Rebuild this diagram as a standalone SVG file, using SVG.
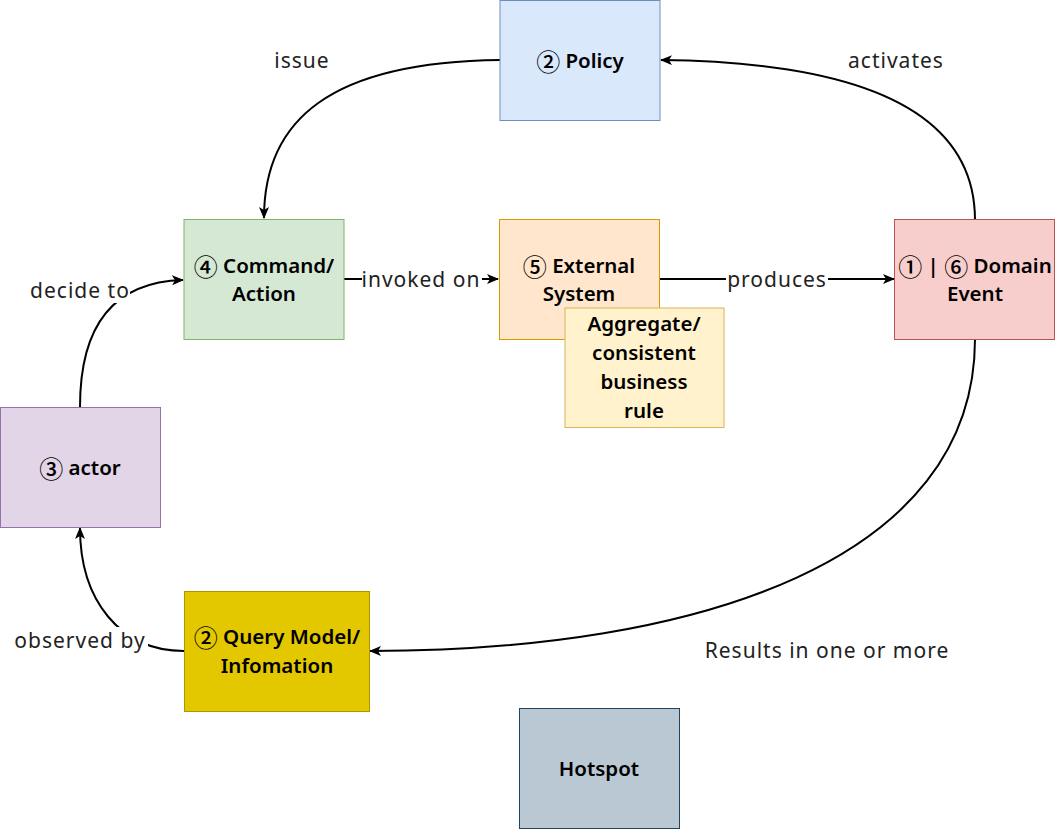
<svg xmlns="http://www.w3.org/2000/svg" width="1055" height="830" viewBox="0 0 1055 830">
<style>
.node text{font-family:"Noto Sans","DejaVu Sans",sans-serif;font-size:20.5px;font-weight:600;fill:#000;text-anchor:middle;dominant-baseline:central}
.node text .c{font-family:"Noto Sans CJK SC","DejaVu Sans",sans-serif;font-weight:500;font-size:24px}
.lbl{font-family:"Noto Sans","DejaVu Sans",sans-serif;font-size:21px;letter-spacing:1px;fill:#222;text-anchor:middle;dominant-baseline:central}
.edge{fill:none;stroke:#000;stroke-width:2}
</style>
<defs>
<marker id="arr" viewBox="0 0 12 10" refX="11" refY="5" markerWidth="12" markerHeight="10" markerUnits="userSpaceOnUse" orient="auto">
<path d="M0,0 L12,5 L0,10 L3,5 z" fill="#000"/>
</marker>
</defs>
<rect width="1055" height="830" fill="#fff"/>
<g id="connectors">
<path class="edge" d="M500,60 C330,62 264,120 264,218" marker-end="url(#arr)"/>
<path class="edge" d="M975,220 C975,110 860,62 661,60" marker-end="url(#arr)"/>
<path class="edge" d="M344,279 L498,279" marker-end="url(#arr)"/>
<path class="edge" d="M659,279 L894,279" marker-end="url(#arr)"/>
<path class="edge" d="M975,339 C975,560 700,651 370,651" marker-end="url(#arr)"/>
<path class="edge" d="M184,651 C120,651 80,600 80,528" marker-end="url(#arr)"/>
<path class="edge" d="M80,407 C80,330 110,282 183,280" marker-end="url(#arr)"/>
<rect x="362" y="266" width="120" height="26" fill="#fff"/>
<text class="lbl" x="421" y="279">invoked on</text>
<rect x="726" y="266" width="102" height="26" fill="#fff"/>
<text class="lbl" x="777" y="279">produces</text>
<rect x="30" y="277" width="100" height="26" fill="#fff"/>
<text class="lbl" x="80" y="290">decide to</text>
<rect x="14" y="627" width="134" height="26" fill="#fff"/>
<text class="lbl" x="80" y="640">observed by</text>
<text class="lbl" x="302" y="60">issue</text>
<text class="lbl" x="896" y="60">activates</text>
<text class="lbl" x="827" y="650">Results in one or more</text>
</g>
<g id="policy" class="node">
<rect x="500" y="0.5" width="160" height="120" fill="#dae8fc" stroke="#6c8ebf"/>
<text x="580" y="60"><tspan class="c">②</tspan> Policy</text>
</g>
<g id="command" class="node">
<rect x="184" y="219.5" width="160" height="120" fill="#d5e8d4" stroke="#82b366"/>
<text x="264" y="265"><tspan class="c">④</tspan> Command/</text>
<text x="264" y="293">Action</text>
</g>
<g id="external" class="node">
<rect x="499.5" y="219.5" width="160" height="120" fill="#ffe6cc" stroke="#d79b00"/>
<text x="579" y="265"><tspan class="c">⑤</tspan> External</text>
<text x="579" y="293">System</text>
</g>
<g id="aggregate" class="node">
<rect x="565" y="308" width="159" height="119.5" fill="#fff2cc" stroke="#d6b656"/>
<text x="644" y="323">Aggregate/</text>
<text x="644" y="352">consistent</text>
<text x="644" y="381">business</text>
<text x="644" y="410">rule</text>
</g>
<g id="domain-event" class="node">
<rect x="894.5" y="219.5" width="160" height="120" fill="#f8cecc" stroke="#b85450"/>
<text x="975" y="265"><tspan class="c">①</tspan> | <tspan class="c">⑥</tspan> Domain</text>
<text x="975" y="293">Event</text>
</g>
<g id="actor" class="node">
<rect x="0.5" y="407.5" width="160" height="120" fill="#e1d5e7" stroke="#9673a6"/>
<text x="80" y="467"><tspan class="c">③</tspan> actor</text>
</g>
<g id="query-model" class="node">
<rect x="184.5" y="591.5" width="185" height="120" fill="#e3c800" stroke="#b09500"/>
<text x="277" y="636"><tspan class="c">②</tspan> Query Model/</text>
<text x="277" y="665">Infomation</text>
</g>
<g id="hotspot" class="node">
<rect x="519.5" y="708.5" width="160" height="120" fill="#bac8d3" stroke="#23445d"/>
<text x="599" y="768">Hotspot</text>
</g>
</svg>
